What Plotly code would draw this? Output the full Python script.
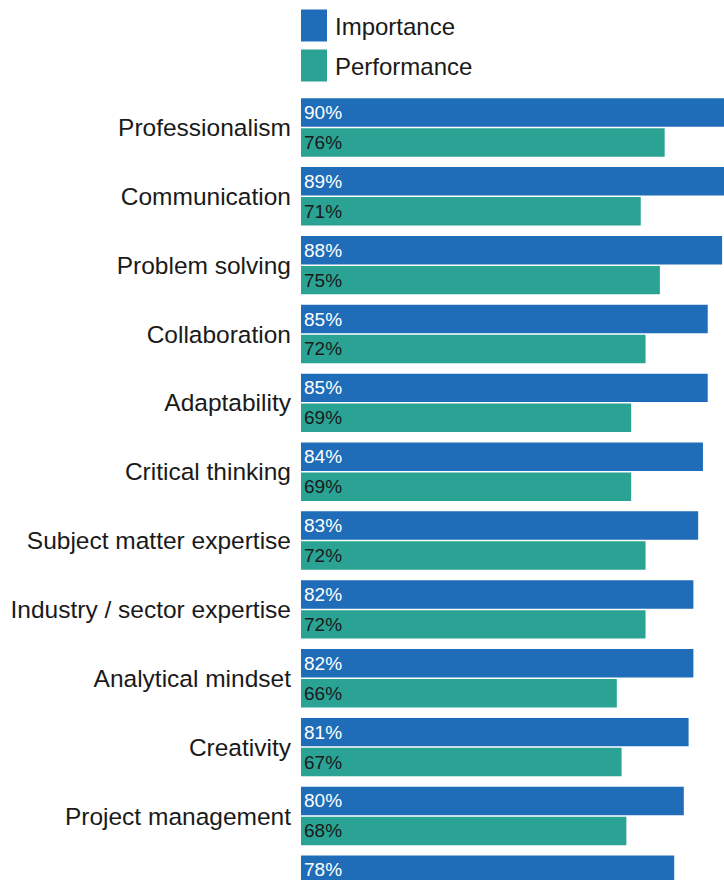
import plotly.graph_objects as go

# Skills: share of respondents rating each as important vs. performing well
skills = [
    "Professionalism",
    "Communication",
    "Problem solving",
    "Collaboration",
    "Adaptability",
    "Critical thinking",
    "Subject matter expertise",
    "Industry / sector expertise",
    "Analytical mindset",
    "Creativity",
    "Project management",
    "Leadership",
]
importance = [90, 89, 88, 85, 85, 84, 83, 82, 82, 81, 80, 78]
performance = [76, 71, 75, 72, 69, 69, 72, 72, 66, 67, 68, None]

series_names = ["Importance", "Performance"]
BLUE = "#1f6db8"
TEAL = "#2aa395"
TEXT = "#1a1a1a"
FONT = "Liberation Sans, Arial, Helvetica, sans-serif"

W, H = 724, 880
PLOT_LEFT = 301
PLOT_TOP = 93

fig = go.Figure()
fig.add_trace(go.Bar(
    name=series_names[0], y=skills, x=importance, orientation="h",
    marker=dict(color=BLUE, line=dict(width=0)),
    texttemplate="%{x}%", textposition="inside", insidetextanchor="start",
    textangle=0, constraintext="none",
    textfont=dict(color="white", size=19, family=FONT),
    showlegend=False,
))
fig.add_trace(go.Bar(
    name=series_names[1], y=skills, x=performance, orientation="h",
    marker=dict(color=TEAL, line=dict(width=0)),
    texttemplate="%{x}%", textposition="inside", insidetextanchor="start",
    textangle=0, constraintext="none",
    textfont=dict(color=TEXT, size=19, family=FONT),
    showlegend=False,
))

# Hand-drawn legend above the bars (pixel positions converted to paper units)
plot_h = H - PLOT_TOP
def py(pix):
    return (H - pix) / plot_h
def px(pix):
    return (pix - PLOT_LEFT) / (W - PLOT_LEFT)

legend_rows = [(series_names[0], BLUE, 9.5, 41.5), (series_names[1], TEAL, 49.5, 81.5)]
for name, color, top, bottom in legend_rows:
    fig.add_shape(type="rect", xref="paper", yref="paper",
                  x0=px(301), x1=px(327), y0=py(bottom), y1=py(top),
                  fillcolor=color, line=dict(width=0))
    fig.add_annotation(xref="paper", yref="paper", x=px(333), y=py((top + bottom) / 2 + 1),
                       text=name, showarrow=False, xanchor="left", yanchor="middle",
                       font=dict(size=24, color=TEXT, family=FONT))

fig.update_layout(
    width=W, height=H,
    margin=dict(l=PLOT_LEFT, r=0, t=PLOT_TOP, b=0, pad=0),
    barmode="group", bargap=0.13, bargroupgap=0.05,
    plot_bgcolor="white", paper_bgcolor="white",
    font=dict(family=FONT, color=TEXT),
    xaxis=dict(range=[0, 88.4], showticklabels=False, showgrid=False,
               zeroline=False, showline=False, fixedrange=True),
    yaxis=dict(type="category", categoryorder="array", categoryarray=skills,
               range=[10.93, -0.5], showgrid=False, zeroline=False, showline=False,
               ticks="", ticklabelstandoff=9,
               tickfont=dict(size=24.5, color=TEXT, family=FONT)),
)

fig.write_html("out.html")
